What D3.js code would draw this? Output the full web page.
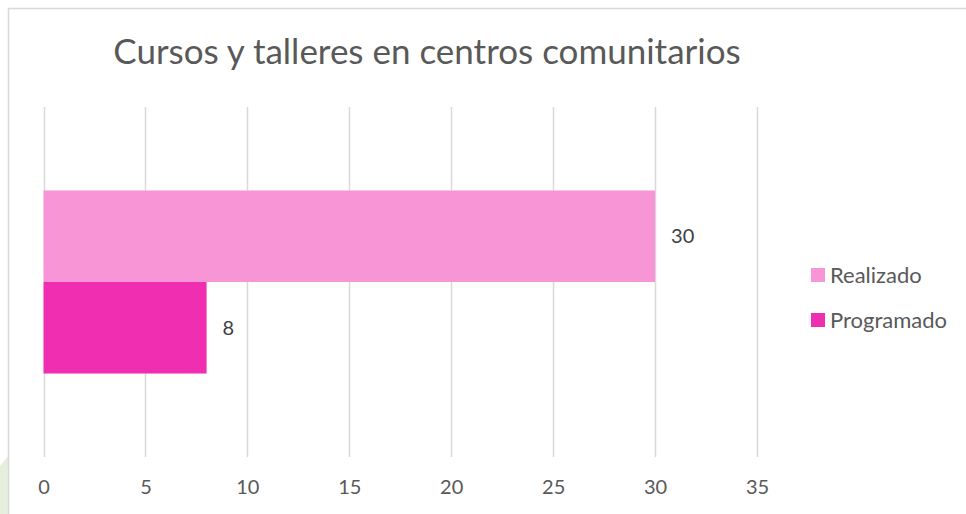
<!DOCTYPE html>
<html>
<head>
<meta charset="utf-8">
<script src="https://cdn.jsdelivr.net/npm/d3@7"></script>
<style>
  body { margin: 0; background: #fff; }
  svg { display: block; font-family: Lato, "Open Sans", sans-serif; }
</style>
</head>
<body>
<div id="chart"></div>
<script>
// chart data
var title = "Cursos y talleres en centros comunitarios";
var categories = ["Cursos y talleres"];
var seriesNames = ["Realizado", "Programado"];
var seriesColors = ["#F795D6", "#F02EB1"];
var realizado = [30];
var programado = [8];
var xTicks = [0, 5, 10, 15, 20, 25, 30, 35];

var w = 966, h = 514;
var svg = d3.select("#chart").append("svg")
  .attr("width", w)
  .attr("height", h);

// faint green corner from the page behind the chart
svg.append("path")
  .attr("d", "M0,466 L8,456 L8,514 L0,514 Z")
  .attr("fill", "#e6eedc");

// chart border
svg.append("path")
  .attr("d", "M8.5,514 L8.5,8.5 L966,8.5")
  .attr("fill", "none")
  .attr("stroke", "#d9d9d9")
  .attr("stroke-width", 1.5);

svg.append("text")
  .attr("x", 427)
  .attr("y", 64)
  .attr("text-anchor", "middle")
  .attr("fill", "#595959")
  .style("font-size", "35px")
  .text(title);

var plotTop = 107, plotBottom = 457;

var x = d3.scaleLinear().domain([0, 35]).range([43.5, 757]);

var y0 = d3.scaleBand()
  .domain(categories)
  .range([plotTop, plotBottom])
  .paddingInner(0)
  .paddingOuter(0.456);

var y1 = d3.scaleBand()
  .domain(seriesNames)
  .range([0, y0.bandwidth()]);

// gridlines
svg.append("g")
  .selectAll("line")
  .data(xTicks)
  .enter().append("line")
  .attr("x1", function(d) { return Math.round(x(d)) + 0.5; })
  .attr("x2", function(d) { return Math.round(x(d)) + 0.5; })
  .attr("y1", plotTop)
  .attr("y2", plotBottom)
  .attr("stroke", "#d9d9d9")
  .attr("stroke-width", 1.5);

// x axis labels
var xAxis = d3.axisBottom(x).tickValues(xTicks).tickSize(0).tickPadding(0);
var gx = svg.append("g")
  .attr("transform", "translate(0," + 494 + ")")
  .call(xAxis);
gx.select(".domain").remove();
gx.selectAll("text")
  .attr("dy", 0)
  .attr("fill", "#595959")
  .style("font-size", "20px")
  .style("font-family", "Lato, 'Open Sans', sans-serif");

// bars
var rows = categories.map(function(c, i) {
  return [
    { cat: c, name: seriesNames[0], value: realizado[i], color: seriesColors[0] },
    { cat: c, name: seriesNames[1], value: programado[i], color: seriesColors[1] }
  ];
});

var groups = svg.selectAll(".cat")
  .data(rows)
  .enter().append("g")
  .attr("class", "cat")
  .attr("transform", function(d) { return "translate(0," + y0(d[0].cat) + ")"; });

groups.selectAll("rect")
  .data(function(d) { return d; })
  .enter().append("rect")
  .attr("x", x(0))
  .attr("y", function(d) { return y1(d.name); })
  .attr("width", function(d) { return x(d.value) - x(0); })
  .attr("height", y1.bandwidth())
  .attr("fill", function(d) { return d.color; });

groups.selectAll(".lbl")
  .data(function(d) { return d; })
  .enter().append("text")
  .attr("class", "lbl")
  .attr("x", function(d) { return x(d.value) + 16; })
  .attr("y", function(d) { return y1(d.name) + y1.bandwidth() / 2; })
  .attr("dy", "0.35em")
  .attr("fill", "#404040")
  .style("font-size", "20px")
  .text(function(d) { return d.value; });

// legend
var legend = svg.append("g")
  .selectAll("g")
  .data(seriesNames)
  .enter().append("g")
  .attr("transform", function(d, i) { return "translate(811," + (268 + i * 45) + ")"; });

legend.append("rect")
  .attr("width", 14)
  .attr("height", 14)
  .attr("fill", function(d, i) { return seriesColors[i]; });

legend.append("text")
  .attr("x", 19)
  .attr("y", 7)
  .attr("dy", "0.35em")
  .attr("fill", "#595959")
  .style("font-size", "22px")
  .text(function(d) { return d; });
</script>
</body>
</html>
